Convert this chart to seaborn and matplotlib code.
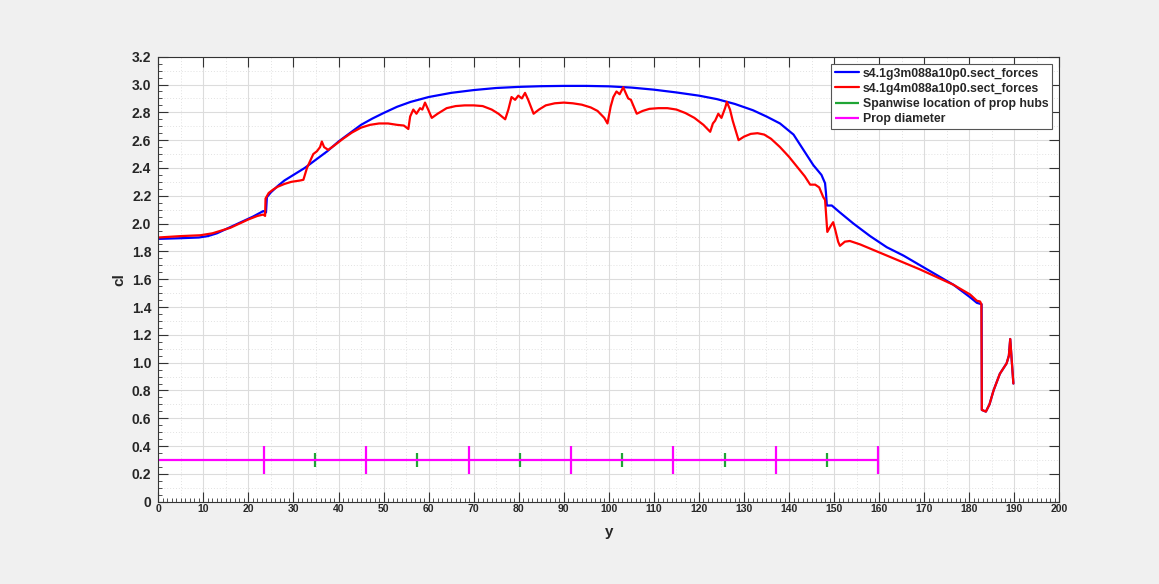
import numpy as np
import matplotlib
matplotlib.use("Agg")
import matplotlib.pyplot as plt
from matplotlib.ticker import MultipleLocator
import seaborn as sns

# spanwise station (y) and section lift coefficient for the two runs
span_g3 = [0, 5, 9, 11, 13, 15, 17, 19, 21, 23.3, 23.9, 24.1, 25, 26.5, 28, 30, 32.5, 35,
           37.5, 40, 42.5, 45, 47.5, 50, 53, 56, 60, 65, 70, 75, 80, 85, 90, 95, 100, 105,
           110, 115, 120, 124, 128, 132, 135, 138, 141, 143.2, 145.4, 147.2, 148.0, 148.2,
           148.4, 149.5, 151.3, 154.3, 158.0, 161.7, 165.4, 169.1, 172.8, 176.5, 180.2,
           181.7, 182.75, 182.8, 183.7, 184.5, 185.4, 186.8, 188.3, 188.8, 189.1, 189.8]
cl_g3 = [1.89, 1.895, 1.90, 1.91, 1.93, 1.96, 1.99, 2.02, 2.05, 2.09, 2.08, 2.19, 2.225,
         2.27, 2.31, 2.35, 2.40, 2.46, 2.52, 2.59, 2.65, 2.71, 2.755, 2.795, 2.84, 2.875,
         2.91, 2.94, 2.96, 2.975, 2.983, 2.988, 2.99, 2.99, 2.987, 2.978, 2.963, 2.943,
         2.92, 2.895, 2.86, 2.815, 2.77, 2.72, 2.64, 2.53, 2.42, 2.35, 2.29, 2.22, 2.13,
         2.13, 2.08, 2.00, 1.91, 1.83, 1.77, 1.70, 1.63, 1.56, 1.47, 1.43, 1.42, 0.66,
         0.648, 0.70, 0.80, 0.92, 0.995, 1.05, 1.17, 0.85]

span_g4 = [0, 5, 9.3, 12, 14, 16, 18, 20, 22, 23.3, 23.7, 23.8, 24.5, 25.5, 26.5, 28, 29.5,
           31.5, 32.2, 33.0, 34.4, 35.2, 35.9, 36.3, 36.8, 37.7, 39, 41, 43, 45, 47, 49, 51,
           53, 54.5, 55.5, 55.9, 56.6, 57.3, 58.1, 58.6, 59.2, 59.9, 60.7, 62, 64, 66, 68,
           70, 72, 74, 75.5, 77, 77.7, 78.4, 79.2, 79.9, 80.7, 81.4, 82.1, 83.3, 84.5, 86,
           88, 90, 92, 94, 96, 97.5, 99, 99.7, 100.4, 101.0, 101.7, 102.4, 103.2, 103.8,
           104.3, 104.9, 106.2, 107.5, 109, 111, 113, 115, 117, 119, 121, 122.5, 123.1,
           123.6, 124.3, 125.0, 125.8, 126.2, 126.9, 127.5, 128.8, 130, 131.5, 133, 134.5,
           136, 138, 140, 142, 143.5, 144.7, 145.8, 146.7, 147.6, 148.0, 148.5, 149.2,
           149.8, 150.3, 150.9, 151.3, 152.4, 153.5, 155.8, 161.7, 169.1, 176.5, 180.2,
           181.7, 182.4, 182.7, 182.8, 183.7, 184.5, 185.4, 186.8, 188.3, 188.8, 189.1, 189.8]
cl_g4 = [1.90, 1.91, 1.916, 1.93, 1.95, 1.97, 2.00, 2.03, 2.055, 2.065, 2.055, 2.18, 2.22,
         2.245, 2.265, 2.285, 2.30, 2.31, 2.315, 2.40, 2.50, 2.52, 2.55, 2.59, 2.55, 2.53,
         2.56, 2.61, 2.655, 2.69, 2.71, 2.72, 2.72, 2.71, 2.705, 2.68, 2.77, 2.82, 2.79,
         2.83, 2.82, 2.87, 2.82, 2.76, 2.79, 2.83, 2.845, 2.85, 2.85, 2.845, 2.82, 2.79,
         2.75, 2.82, 2.91, 2.89, 2.92, 2.90, 2.94, 2.89, 2.79, 2.82, 2.85, 2.865, 2.87,
         2.865, 2.855, 2.835, 2.81, 2.76, 2.72, 2.84, 2.91, 2.95, 2.93, 2.98, 2.935, 2.90,
         2.89, 2.79, 2.81, 2.825, 2.83, 2.83, 2.82, 2.795, 2.76, 2.71, 2.66, 2.72, 2.74,
         2.79, 2.76, 2.83, 2.875, 2.82, 2.74, 2.60, 2.625, 2.645, 2.65, 2.64, 2.61, 2.55,
         2.48, 2.40, 2.34, 2.28, 2.28, 2.26, 2.19, 2.17, 1.94, 1.98, 2.01, 1.95, 1.87, 1.84,
         1.87, 1.875, 1.85, 1.77, 1.67, 1.56, 1.49, 1.445, 1.44, 1.42, 0.66, 0.648, 0.70,
         0.80, 0.92, 0.995, 1.05, 1.17, 0.85]

# propeller layout markers
hub_span = [34.8, 57.5, 80.3, 103.0, 125.7, 148.4]
disk_edges = [23.4, 46.2, 68.9, 91.6, 114.3, 137.0, 159.8]
marker_level = 0.3

labels = ["s4.1g3m088a10p0.sect_forces", "s4.1g4m088a10p0.sect_forces",
          "Spanwise location of prop hubs", "Prop diameter"]

sns.set_theme(style="ticks")
plt.rcParams["font.family"] = ["Liberation Sans", "DejaVu Sans"]
plt.rcParams["font.weight"] = "bold"

fig = plt.figure(figsize=(11.59, 5.84), dpi=100, facecolor="#f0f0f0")
ax = fig.add_axes([0.1366, 0.1409, 0.7774, 0.762])
ax.set_facecolor("white")

# dotted minor grid (MATLAB style), solid major grid
for xv in np.arange(5, 200, 10):
    ax.axvline(xv, color="#e2e2e2", lw=0.7, ls=(0, (1, 2)), zorder=0)
for yv in np.arange(0.1, 3.2, 0.2):
    ax.axhline(yv, color="#e2e2e2", lw=0.7, ls=(0, (1, 2)), zorder=0)
ax.grid(which="major", color="#dcdcdc", lw=0.8, zorder=0)
ax.set_axisbelow(True)

sns.lineplot(x=span_g3, y=cl_g3, estimator=None, sort=False, color="#0000ff",
             lw=1.6, label=labels[0], ax=ax)
sns.lineplot(x=span_g4, y=cl_g4, estimator=None, sort=False, color="#ff0000",
             lw=1.6, label=labels[1], ax=ax)
ax.vlines(hub_span, marker_level - 0.05, marker_level + 0.05, color="#1fa535",
          lw=1.6, label=labels[2])
ax.hlines(marker_level, 0, disk_edges[-1], color="#ff00ff", lw=1.6, label=labels[3])
ax.vlines(disk_edges, marker_level - 0.1, marker_level + 0.1, color="#ff00ff", lw=1.6)

ax.set_xlim(0, 200)
ax.set_ylim(0, 3.2)
ax.xaxis.set_major_locator(MultipleLocator(10))
ax.xaxis.set_minor_locator(MultipleLocator(1))
ax.yaxis.set_minor_locator(MultipleLocator(0.05))
ax.set_yticks(np.arange(0, 3.21, 0.2))
ax.set_yticklabels(["0"] + [f"{v:.1f}" for v in np.arange(0.2, 3.21, 0.2)])

ax.tick_params(which="both", direction="in", top=True, right=True, color="#333333")
ax.tick_params(which="major", length=7, width=0.8)
ax.tick_params(which="minor", length=3, width=0.6, top=False, right=False)
ax.tick_params(axis="x", labelsize=7.5, pad=1.5)
ax.tick_params(axis="y", labelsize=10, pad=5)
for lab in ax.get_xticklabels() + ax.get_yticklabels():
    lab.set_fontweight("bold")

for sp in ax.spines.values():
    sp.set_color("#333333")
    sp.set_linewidth(0.8)

ax.set_xlabel("y", fontsize=11, fontweight="bold", labelpad=8, color="#262626")
ax.set_ylabel("cl", fontsize=11, fontweight="bold", labelpad=4, color="#262626")

leg = ax.legend(loc="upper right", fancybox=False, framealpha=1, edgecolor="#555555",
                prop={"size": 8.8, "weight": "bold"}, handlelength=2.0, handletextpad=0.3,
                labelspacing=0.25, borderpad=0.3, borderaxespad=0.6)
leg.get_frame().set_linewidth(0.8)

fig.savefig("out.png", dpi=100, facecolor=fig.get_facecolor())
